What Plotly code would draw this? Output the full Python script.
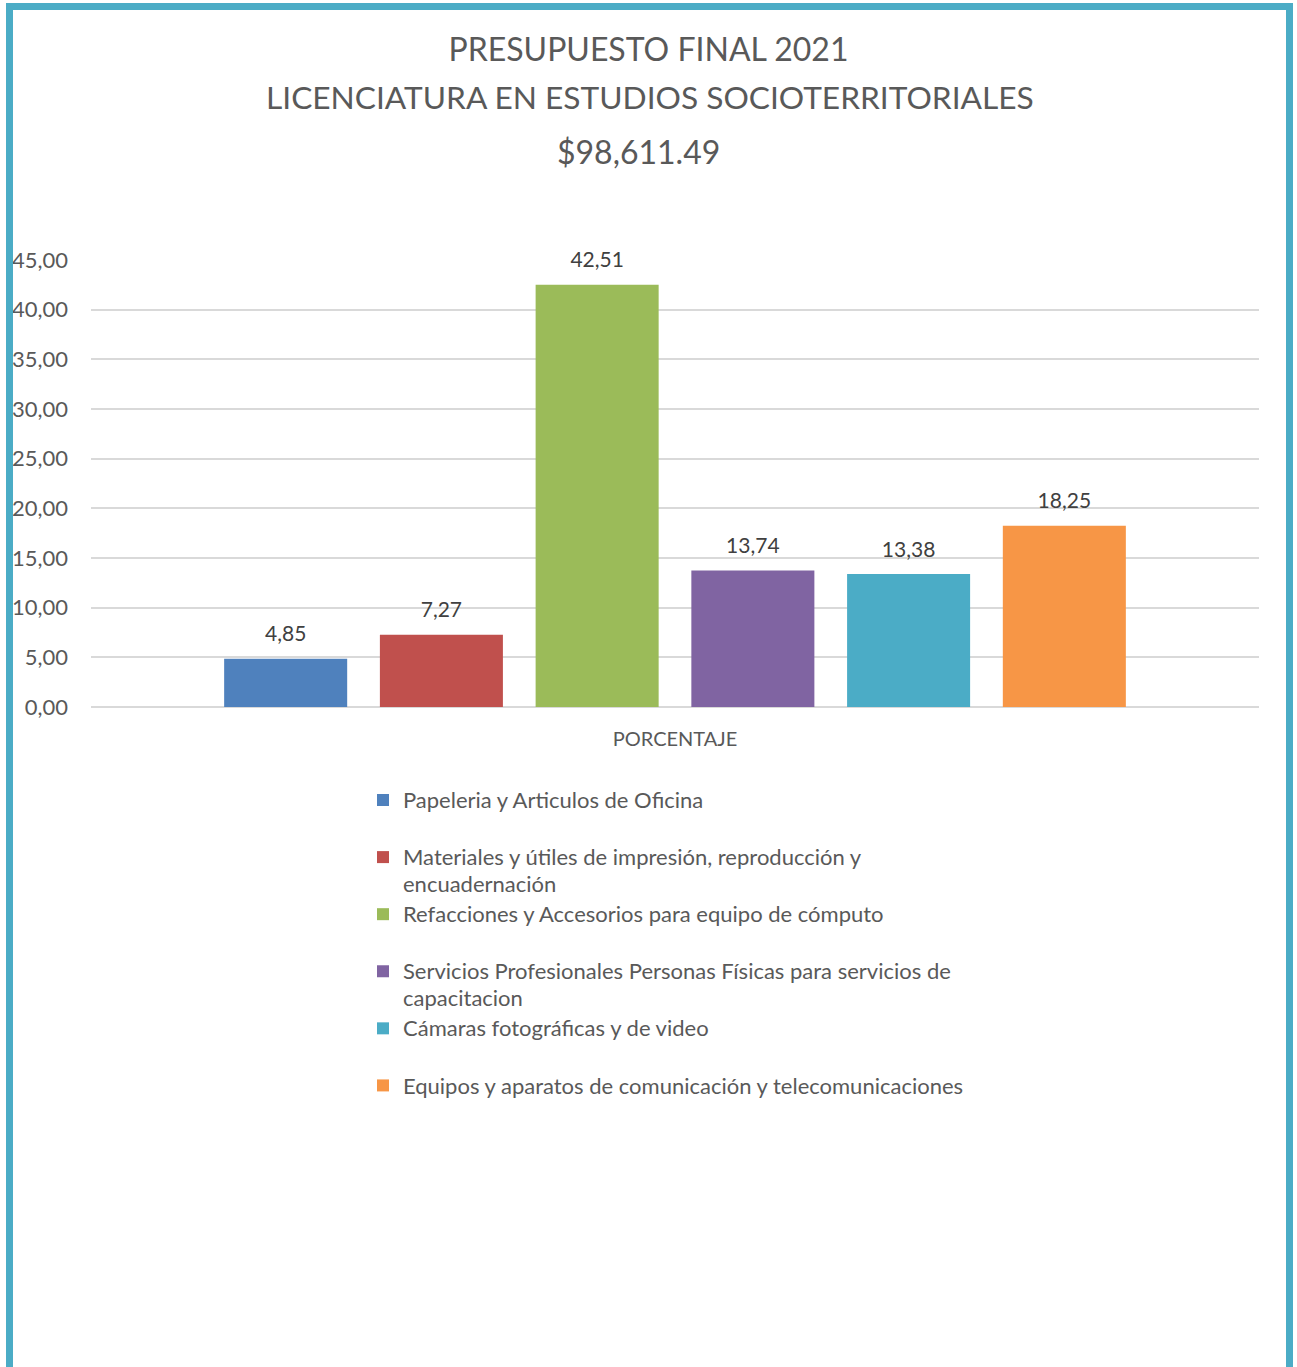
import plotly.graph_objects as go

categories = ["PORCENTAJE"]
series_names = [
    ["Papeleria y Articulos de Oficina"],
    ["Materiales y útiles de impresión, reproducción y", "encuadernación"],
    ["Refacciones y Accesorios para equipo de cómputo"],
    ["Servicios Profesionales Personas Físicas para servicios de", "capacitacion"],
    ["Cámaras fotográficas y de video"],
    ["Equipos y aparatos de comunicación y telecomunicaciones"],
]
series_values = [4.85, 7.27, 42.51, 13.74, 13.38, 18.25]
series_colors = ["#4F81BD", "#C0504D", "#9BBB59", "#8064A2", "#4BACC6", "#F79646"]
tick_values = [0, 5, 10, 15, 20, 25, 30, 35, 40, 45]

FONT = "Lato"
TXT = "#595959"


def legend_label(lines):
    lines = list(lines) + ["\u00a0"] * (2 - len(lines))
    return "<br>".join(f"<span style='font-size:22px'>{ln}</span>" for ln in lines)


fig = go.Figure()
for i, (name, val, col) in enumerate(zip(series_names, series_values, series_colors)):
    fig.add_trace(go.Bar(
        x=categories, y=[val], name=legend_label(name), marker_color=col,
        marker_line_width=0, offsetgroup=str(i), legendgroup=str(i),
        hovertemplate="%{y:.2f}<extra></extra>",
    ))
for i, val in enumerate(series_values):
    fig.add_trace(go.Scatter(
        x=categories, y=[val], mode="markers+text", offsetgroup=str(i),
        legendgroup=str(i), showlegend=False,
        marker=dict(size=18, opacity=0),
        texttemplate="%{y:.2f}", textposition="top center",
        textfont=dict(family=FONT, size=21, color="#404040"),
        cliponaxis=False, hoverinfo="skip",
    ))

W, H = 1297, 1367
L, R, T, B = 91, 38, 260, 660
pw, ph = W - L - R, H - T - B


def px_x(x):
    return (x - L) / pw


def px_y(y):
    return (H - B - y) / ph


fig.update_layout(
    width=W, height=H,
    margin=dict(l=L, r=R, t=T, b=B, autoexpand=False),
    paper_bgcolor="white", plot_bgcolor="white",
    separators=",.",
    barmode="group", bargap=0.2, bargroupgap=0.21,
    scattermode="group", scattergap=0.2,
    font=dict(family=FONT, color=TXT),
    title=dict(text="PRESUPUESTO FINAL 2021", x=0.5, xanchor="center",
               y=1 - 50 / H, yanchor="middle", yref="container",
               font=dict(family=FONT, size=32, color=TXT)),
    showlegend=True,
    legend=dict(orientation="v", x=px_x(363), xanchor="left",
                y=px_y(780), yanchor="top", valign="top",
                font=dict(family=FONT, size=20.8, color=TXT),
                tracegroupgap=0, bgcolor="rgba(0,0,0,0)"),
    xaxis=dict(showgrid=False, showline=False, ticks="",
               tickfont=dict(family=FONT, size=20, color=TXT),
               ticklabelstandoff=18),
    yaxis=dict(range=[0, 45], tickvals=tick_values, tickformat=".2f",
               showgrid=True, gridcolor="#D9D9D9", gridwidth=1.5,
               zeroline=True, zerolinecolor="#D9D9D9", zerolinewidth=1.5,
               showline=False, ticks="",
               tickfont=dict(family=FONT, size=22, color=TXT),
               ticklabelstandoff=22),
    annotations=[
        dict(text="LICENCIATURA EN ESTUDIOS SOCIOTERRITORIALES", x=px_x(649.5),
             xref="paper", xanchor="center", y=px_y(97), yref="paper",
             yanchor="middle", showarrow=False,
             font=dict(family=FONT, size=31.7, color=TXT)),
        dict(text="$98,611.49", x=px_x(638.5), xref="paper", xanchor="center",
             y=px_y(152), yref="paper", yanchor="middle", showarrow=False,
             font=dict(family=FONT, size=32, color=TXT)),
    ],
    shapes=[
        dict(type="path", xref="paper", yref="paper",
             path=f"M {px_x(9.5)} {px_y(1500)} L {px_x(9.5)} {px_y(6.5)} "
                  f"L {px_x(1289.5)} {px_y(6.5)} L {px_x(1289.5)} {px_y(1500)}",
             line=dict(color="#4BACC6", width=7)),
    ],
)
fig.write_html("out.html", config={"displayModeBar": False},
               post_script="document.body.style.margin='0';document.body.style.overflow='hidden';")
